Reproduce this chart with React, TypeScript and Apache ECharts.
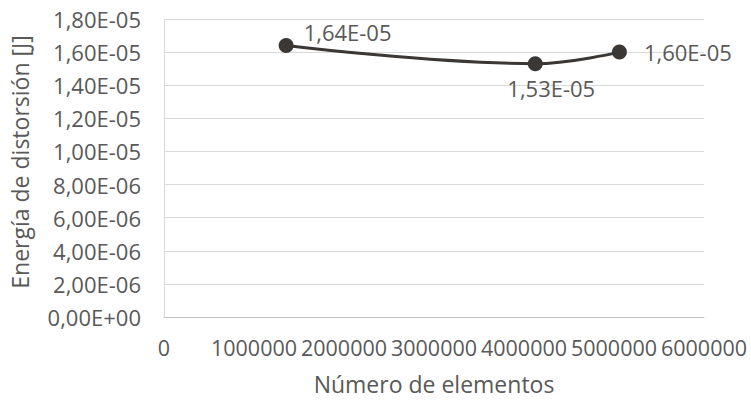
import React, { useEffect, useRef } from "react";
import * as echarts from "echarts";

const xValues = [1357000, 4125000, 5060000];
const yValues = [1.64e-5, 1.53e-5, 1.6e-5];
const xAxisName = "Número de elementos";
const yAxisName = "Energía de distorsión [J]";

const FONT = "'Open Sans', sans-serif";
const TXT = "#595959";

function sci(v: number): string {
  if (v === 0) return "0,00E+00";
  let e = Math.floor(Math.log10(Math.abs(v)));
  let ms = (v / Math.pow(10, e)).toFixed(2);
  if (ms === "10.00") {
    e += 1;
    ms = (v / Math.pow(10, e)).toFixed(2);
  }
  const sign = e < 0 ? "-" : "+";
  const ea = Math.abs(e);
  return ms.replace(".", ",") + "E" + sign + (ea < 10 ? "0" + ea : "" + ea);
}

export default function App() {
  const ref = useRef<HTMLDivElement>(null);
  useEffect(() => {
    if (!ref.current) return;
    const chart = echarts.init(ref.current, undefined, { renderer: "svg" });
    const labelCfg = [
      { position: "right", distance: 10, offset: [0, -13] },
      { position: "bottom", distance: 6, offset: [16, 0] },
      { position: "right", distance: 17, offset: [0, 0] },
    ];
    chart.setOption({
      animation: false,
      backgroundColor: "#ffffff",
      grid: { left: 160, right: 47, top: 19, bottom: 83, containLabel: false },
      xAxis: {
        type: "value",
        min: 0,
        max: 6000000,
        interval: 1000000,
        name: xAxisName,
        nameLocation: "middle",
        nameGap: 55,
        nameTextStyle: { color: TXT, fontFamily: FONT, fontSize: 23 },
        axisLine: { show: true, lineStyle: { color: "#bfbfbf", width: 1 } },
        axisTick: { show: false },
        splitLine: { show: false },
        axisLabel: { color: TXT, fontFamily: FONT, fontSize: 21.5, margin: 19, formatter: (v: number) => String(v) },
      },
      yAxis: {
        type: "value",
        min: 0,
        max: 1.8e-5,
        interval: 2e-6,
        name: yAxisName,
        nameLocation: "middle",
        nameGap: 133,
        nameTextStyle: { color: TXT, fontFamily: FONT, fontSize: 23, padding: [0, 0, 0, 12] },
        axisLine: { show: true, lineStyle: { color: "#d9d9d9", width: 1 } },
        axisTick: { show: false },
        splitLine: { show: true, lineStyle: { color: "#d9d9d9", width: 1 } },
        axisLabel: { color: TXT, fontFamily: FONT, fontSize: 22, margin: 23, formatter: (v: number) => sci(v) },
      },
      series: [
        {
          type: "line",
          smooth: 0.4,
          symbol: "circle",
          symbolSize: 15,
          lineStyle: { color: "#3a3734", width: 3 },
          itemStyle: { color: "#3a3734" },
          data: xValues.map((x, i) => ({
            value: [x, yValues[i]],
            label: {
              show: true,
              position: labelCfg[i].position,
              distance: labelCfg[i].distance,
              offset: labelCfg[i].offset,
              color: TXT,
              fontFamily: FONT,
              fontSize: 22,
              formatter: () => sci(yValues[i]),
            },
          })),
        },
      ],
    });
    return () => chart.dispose();
  }, []);
  return <div ref={ref} style={{ width: 751, height: 400, position: "absolute", left: 0, top: 0 }} />;
}
